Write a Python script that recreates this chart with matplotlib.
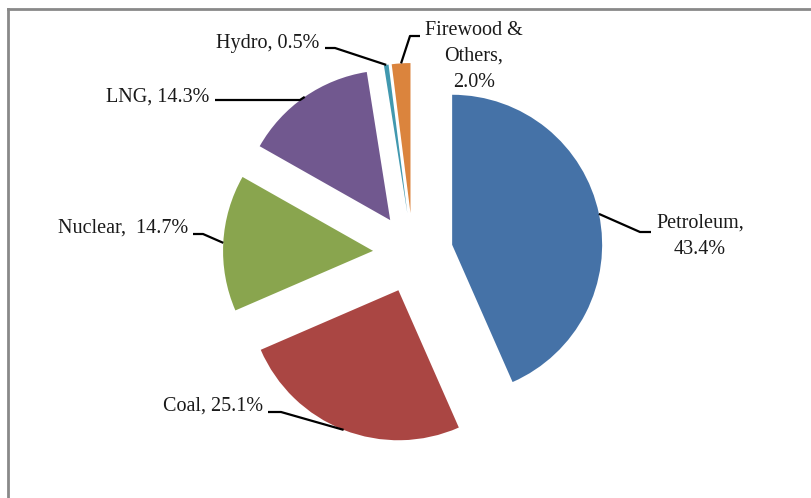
import numpy as np
import matplotlib
matplotlib.use("Agg")
import matplotlib.pyplot as plt
from matplotlib.lines import Line2D

# ===== data =====
sources = ["Petroleum", "Coal", "Nuclear", "LNG", "Hydro", "Firewood &\nOthers"]
shares = [43.4, 25.1, 14.7, 14.3, 0.5, 2.0]
colors = ["#4572A7", "#AA4643", "#89A54E", "#71588F", "#4198AF", "#DB843D"]
# how the label is broken up ("\n" or " " after the comma)
label_sep = ["\n", " ", "  ", " ", " ", "\n"]

# ===== layout (pixels, y from top) =====
W, H = 812, 498
center_px = (413, 253)
radius = 150
explode_px = 40

# text position, alignment, leader elbow and leader end near the text
label_layout = [
    ((700, 236), "center", (640, 232), (651, 232)),
    ((263, 406), "right", (281, 412), (268, 412)),
    ((188, 228), "right", (203, 234), (193, 234)),
    ((209, 97), "right", (300, 100), (215, 100)),
    ((319, 43), "right", (335, 48), (325, 48)),
    ((474, 56), "center", (410, 36), (420, 36)),
]

plt.rcParams['font.family'] = ['Liberation Serif', 'DejaVu Serif']

fig = plt.figure(figsize=(W / 100, H / 100), dpi=100)
ax = fig.add_axes([0, 0, 1, 1])

wedges, _ = ax.pie(shares, colors=colors, startangle=90, counterclock=False,
                   explode=[explode_px] * len(shares), radius=radius,
                   center=(center_px[0], H - center_px[1]), frame=False,
                   wedgeprops=dict(linewidth=0))
ax.set_xlim(0, W)
ax.set_ylim(0, H)
ax.axis('off')

for w, name, val, sep, (txy, ha, elbow, end) in zip(wedges, sources, shares,
                                                     label_sep, label_layout):
    mid = np.deg2rad((w.theta1 + w.theta2) / 2)
    ax_x = w.center[0] + w.r * np.cos(mid)
    ax_y = w.center[1] + w.r * np.sin(mid)
    ax.plot([ax_x, elbow[0], end[0]], [ax_y, H - elbow[1], H - end[1]],
            color='black', lw=1.6, solid_capstyle='butt')
    ax.text(txy[0], H - txy[1], f"{name},{sep}{val:.1f}%", ha=ha, va='center',
            fontsize=14.5, color='#1a1a1a', linespacing=1.5,
            multialignment='center')

# chart area border (only top and left visible)
fig.add_artist(Line2D([8 / W, 1], [1 - 9.5 / H, 1 - 9.5 / H],
                      color='#898989', lw=2, transform=fig.transFigure))
fig.add_artist(Line2D([8 / W, 8 / W], [0, 1 - 9.5 / H],
                      color='#898989', lw=2, transform=fig.transFigure))

fig.savefig("out.png", dpi=100)
